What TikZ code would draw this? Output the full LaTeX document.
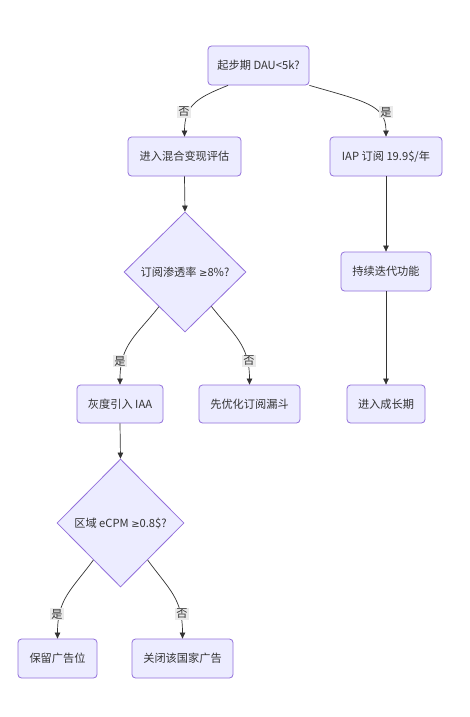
\documentclass[tikz,border=0pt]{standalone}
\usepackage{fontspec}
\setmainfont{Noto Sans CJK SC}
\newfontfamily\symfont{DejaVu Sans}
\usetikzlibrary{shapes.geometric,arrows.meta,calc}
\definecolor{nodefill}{HTML}{ECECFF}
\definecolor{nodeline}{HTML}{9370DB}
\definecolor{ink}{HTML}{333333}
\definecolor{labelbg}{HTML}{EAEAEA}
\newcommand{\mygeq}{{\symfont\fontsize{10}{12}\selectfont ≥}}
\begin{document}
\begin{tikzpicture}[x=1pt,y=-1pt,
  every node/.style={font=\fontsize{11.2}{13}\selectfont, text=ink},
  procbox/.style={draw=nodeline, fill=nodefill, line width=0.8pt, rounded corners=3.5pt, inner sep=0pt, minimum height=39},
  decbox/.style={draw=nodeline, fill=nodefill, line width=0.8pt, diamond, inner sep=0pt},
  edgelab/.style={fill=labelbg, inner sep=1pt, font=\fontsize{11.2}{13}\selectfont},
  edge/.style={draw=ink, line width=0.7pt, -{Triangle[length=6pt,width=5.5pt]}}
]
\useasboundingbox (0,0) rectangle (470,717);
\fill[white] (0,0) rectangle (470,717);

\node[procbox, minimum width=101] (start) at (258.5,65.5) {起步期 DAU<5k?};
\node[procbox, minimum width=113] (mix) at (184.5,156.5) {进入混合变现评估};
\node[procbox, minimum width=112] (iap) at (386,156.5) {IAP 订阅 19.9\$/年};
\node[decbox, minimum width=122, minimum height=120] (sub) at (185,272) {订阅渗透率 \mygeq8\%?};
\node[procbox, minimum width=90] (iter) at (386,271.5) {持续迭代功能};
\node[procbox, minimum width=86, minimum height=38] (iaa) at (120,404) {灰度引入 IAA};
\node[procbox, minimum width=101, minimum height=38] (funnel) at (249.5,404) {先优化订阅漏斗};
\node[procbox, minimum width=78, minimum height=38] (grow) at (386,404) {进入成长期};
\node[decbox, minimum width=127, minimum height=128] (ecpm) at (120.5,523) {区域 eCPM \mygeq0.8\$?};
\node[procbox, minimum width=79] (keep) at (57.5,658.5) {保留广告位};
\node[procbox, minimum width=101] (close) at (182.5,658.5) {关闭该国家广告};

% edges
\draw[edge] ([xshift=-30.5]start.south) .. controls +(-30,12) and +(0,-32) .. (mix.north);
\draw[edge] ([xshift=51]start.south) .. controls +(55,16) and +(0,-32) .. (iap.north);
\draw[edge] (mix.south) -- (sub.north);
\draw[edge] (iap.south) -- (iter.north);
\draw[edge] (iter.south) -- (grow.north);
\draw[edge] ($(sub.south west)!0.15!(sub.south)$) .. controls +(-22,28) and +(0,-40) .. (iaa.north);
\draw[edge] ($(sub.south east)!0.14!(sub.south)$) .. controls +(22,28) and +(0,-40) .. (funnel.north);
\draw[edge] (iaa.south) -- (ecpm.north);
\draw[edge] ($(ecpm.south west)!0.15!(ecpm.south)$) .. controls +(-22,30) and +(0,-40) .. (keep.north);
\draw[edge] ($(ecpm.south east)!0.15!(ecpm.south)$) .. controls +(22,30) and +(0,-40) .. (close.north);

% edge labels
\node[edgelab] (l1) at (184,112) {否};
\node[edgelab] (l2) at (386,112) {是};
\node[edgelab] (l3) at (120,361) {是};
\node[edgelab] (l4) at (249,361) {否};
\node[edgelab] (l5) at (57,614) {是};
\node[edgelab] (l6) at (182,614) {否};
\end{tikzpicture}
\end{document}
